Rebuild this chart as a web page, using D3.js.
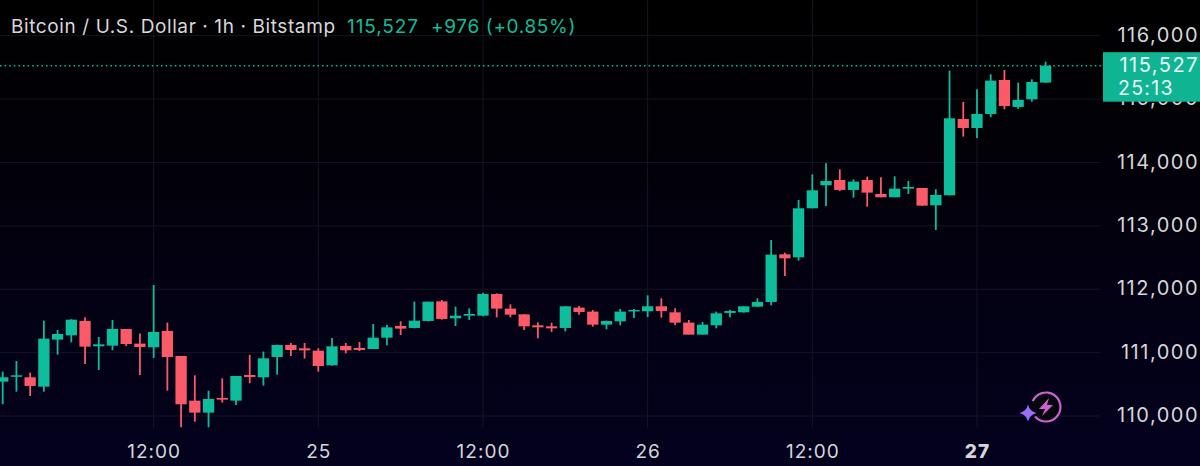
<!DOCTYPE html>
<html>
<head>
<meta charset="utf-8">
<script src="https://cdn.jsdelivr.net/npm/d3@7"></script>
<style>
html, body { margin: 0; padding: 0; background: #000; overflow: hidden; }
text { font-family: Inter, "Noto Sans", sans-serif; }
</style>
</head>
<body>
<div id="chart"></div>
<script>
// hourly candles
var opens = [110542,110621,110611,110463,111205,111273,111499,111100,111110,111373,111142,111084,111342,110947,110242,110053,110284,110242,110647,110611,110931,111121,111068,111031,110800,111105,111073,111057,111236,111420,111389,111499,111809,111541,111583,111583,111925,111694,111604,111431,111415,111389,111710,111647,111441,111494,111652,111652,111731,111636,111473,111284,111431,111626,111636,111725,111799,112551,112504,113277,113640,113724,113566,113724,113503,113451,113587,113598,113324,113482,114686,114544,114765,115302,114876,114997,115260];
var highs = [110700,110868,110684,111505,111357,111526,111557,111247,111515,111373,111300,112067,111473,110947,110642,110400,110595,110632,110963,111016,111126,111152,111152,111068,111231,111152,111168,111452,111441,111494,111804,111804,111830,111725,111699,111946,111936,111762,111604,111478,111473,111731,111736,111673,111505,111689,111689,111904,111857,111699,111515,111484,111647,111678,111731,111857,112777,112577,113408,113813,113987,113892,113734,113777,113766,113782,113708,113598,113577,115449,114955,115154,115391,115459,115260,115312,115591];
var lows = [110185,110384,110316,110384,110968,111163,110821,110726,111037,111105,110647,110916,110400,109822,109911,109822,110211,110174,110516,110479,110653,110947,110905,110700,110794,110989,111026,111057,111115,111278,111383,111494,111520,111420,111515,111573,111557,111557,111357,111226,111326,111336,111599,111410,111368,111431,111547,111562,111552,111436,111284,111284,111384,111557,111631,111725,111746,112209,112451,113277,113314,113550,113445,113303,113451,113451,113503,113319,112935,113482,114408,114387,114713,114839,114844,114960,115260];
var closes = [110611,110642,110474,111221,111294,111520,111094,111131,111373,111136,111089,111326,110931,110185,110053,110269,110258,110632,110616,110910,111121,111042,111036,110789,111099,111036,111042,111236,111399,111378,111504,111804,111531,111583,111610,111925,111694,111599,111415,111399,111383,111731,111641,111441,111499,111647,111673,111731,111657,111473,111284,111441,111620,111657,111731,111799,112546,112488,113277,113561,113708,113566,113698,113524,113451,113587,113613,113319,113487,114697,114544,114765,115291,114891,114986,115270,115527];

var priceTicks = [110000,111000,112000,113000,114000,115000,116000];
var timeTicks = [11,23,35,47,59,71];
var timeLabels = ["12:00","25","12:00","26","12:00","27"];

var lastPrice = "115,527";
var countdown = "25:13";
var titleText = "Bitcoin / U.S. Dollar · 1h · Bitstamp";
var changeText = "+976 (+0.85%)";

var up = "#0dbd9b", down = "#fb5a68", tag = "#0fb492";
var width = 1200, height = 466;

var x = d3.scaleLinear().domain([0, 76]).range([2.7, 1045.6]);
var y = d3.scaleLinear().domain([110000, 116000]).range([416, 35.7]);

var svg = d3.select("#chart").append("svg")
    .attr("width", width)
    .attr("height", height)
    .style("display", "block");

var grad = svg.append("defs").append("linearGradient")
    .attr("id", "bg")
    .attr("x1", 0).attr("x2", 0).attr("y1", 0).attr("y2", 1);
grad.append("stop").attr("offset", "0%").attr("stop-color", "#000000");
grad.append("stop").attr("offset", "35%").attr("stop-color", "#020109");
grad.append("stop").attr("offset", "100%").attr("stop-color", "#04011f");

svg.append("rect")
    .attr("width", width)
    .attr("height", height)
    .attr("fill", "url(#bg)");

function drawGrid(){
    svg.append("g").selectAll("line")
        .data(priceTicks)
        .enter()
        .append("line")
        .attr("x1", 0)
        .attr("x2", 1100)
        .attr("y1", function(d){return y(d);})
        .attr("y2", function(d){return y(d);})
        .attr("stroke", "#171524")
        .attr("stroke-width", 1);

    svg.append("g").selectAll("line")
        .data(timeTicks)
        .enter()
        .append("line")
        .attr("x1", function(d){return x(d);})
        .attr("x2", function(d){return x(d);})
        .attr("y1", 0)
        .attr("y2", 428)
        .attr("stroke", "#171524")
        .attr("stroke-width", 1);
}

function drawCandles(){
    var bodyWidth = 11.3;
    var candles = svg.append("g").selectAll("g")
        .data(opens)
        .enter()
        .append("g");

    candles.append("line")
        .attr("x1", function(d, i){return x(i);})
        .attr("x2", function(d, i){return x(i);})
        .attr("y1", function(d, i){return y(highs[i]);})
        .attr("y2", function(d, i){return y(lows[i]);})
        .attr("stroke-width", 1.8)
        .attr("stroke", function(d, i){return closes[i] >= d ? up : down;});

    candles.append("rect")
        .attr("x", function(d, i){return x(i) - bodyWidth / 2;})
        .attr("y", function(d, i){return y(Math.max(d, closes[i]));})
        .attr("width", bodyWidth)
        .attr("height", function(d, i){return Math.max(1.5, Math.abs(y(d) - y(closes[i])));})
        .attr("fill", function(d, i){return closes[i] >= d ? up : down;});
}

function drawAxes(){
    var yAxis = d3.axisRight(y)
        .tickValues(priceTicks)
        .tickSize(0)
        .tickFormat(d3.format(","));
    var yg = svg.append("g")
        .attr("transform", "translate(1199,0)")
        .call(yAxis);
    yg.select(".domain").remove();
    yg.selectAll("text")
        .attr("x", 0)
        .attr("dy", "0.28em")
        .attr("text-anchor", "end")
        .attr("fill", "#d6d6da")
        .style("font-size", "20px")
        .style("letter-spacing", "1.5px");

    var xAxis = d3.axisBottom(x)
        .tickValues(timeTicks)
        .tickSize(0)
        .tickFormat(function(d, i){return timeLabels[i];});
    var xg = svg.append("g")
        .attr("transform", "translate(0,444)")
        .call(xAxis);
    xg.select(".domain").remove();
    xg.selectAll("text")
        .attr("y", 0)
        .attr("dy", "0.71em")
        .attr("fill", "#d6d6da")
        .style("font-size", "19px")
        .style("letter-spacing", "1px")
        .style("font-weight", function(d){return d == 71 ? 800 : 400;});
}

function drawPriceTag(){
    var py = y(closes[closes.length - 1]);
    svg.append("line")
        .attr("x1", 0)
        .attr("x2", 1103)
        .attr("y1", py)
        .attr("y2", py)
        .attr("stroke", up)
        .attr("stroke-width", 1.5)
        .attr("stroke-dasharray", "1.5 3.1");

    svg.append("rect")
        .attr("x", 1103)
        .attr("y", py - 13.5)
        .attr("width", 97)
        .attr("height", 49.5)
        .attr("fill", tag);

    svg.append("text")
        .attr("x", 1199)
        .attr("y", py + 6)
        .attr("text-anchor", "end")
        .attr("fill", "#eafaf6")
        .style("font-size", "20px")
        .style("letter-spacing", "1.5px")
        .text(lastPrice);

    svg.append("text")
        .attr("x", 1118)
        .attr("y", py + 29)
        .attr("fill", "#eafaf6")
        .style("font-size", "19.5px")
        .style("letter-spacing", "1.3px")
        .text(countdown);
}

function drawTitle(){
    svg.append("text")
        .attr("x", 11)
        .attr("y", 33)
        .attr("fill", "#d8d8dc")
        .style("font-size", "19px")
        .style("letter-spacing", "0.6px")
        .text(titleText);

    svg.append("text")
        .attr("x", 347)
        .attr("y", 33)
        .attr("fill", up)
        .style("font-size", "19px")
        .style("letter-spacing", "0.9px")
        .text(lastPrice);

    svg.append("text")
        .attr("x", 431)
        .attr("y", 33)
        .attr("fill", up)
        .style("font-size", "19px")
        .style("letter-spacing", "0.65px")
        .text(changeText);
}

function drawBadge(){
    var badge = svg.append("g").attr("transform", "translate(1046,407)");
    var arc = d3.arc().innerRadius(13.4).outerRadius(15.6);

    badge.append("circle").attr("r", 14).attr("fill", "#08050f");
    badge.append("path")
        .attr("d", arc({startAngle: -1.15, endAngle: 4.0}))
        .attr("fill", "#c964cf");
    badge.append("path")
        .attr("d", "M3-9L-7 2H-1L-4 9L7-2H1Z")
        .attr("fill", "#c964cf");
    svg.append("path")
        .attr("transform", "translate(1028,413)")
        .attr("d", "M0-8.5Q1.6-1.6 8.5 0Q1.6 1.6 0 8.5Q-1.6 1.6-8.5 0Q-1.6-1.6 0-8.5Z")
        .attr("fill", "#9b6cfb");
}

drawGrid();
drawCandles();
drawAxes();
drawPriceTag();
drawTitle();
drawBadge();
</script>
</body>
</html>
